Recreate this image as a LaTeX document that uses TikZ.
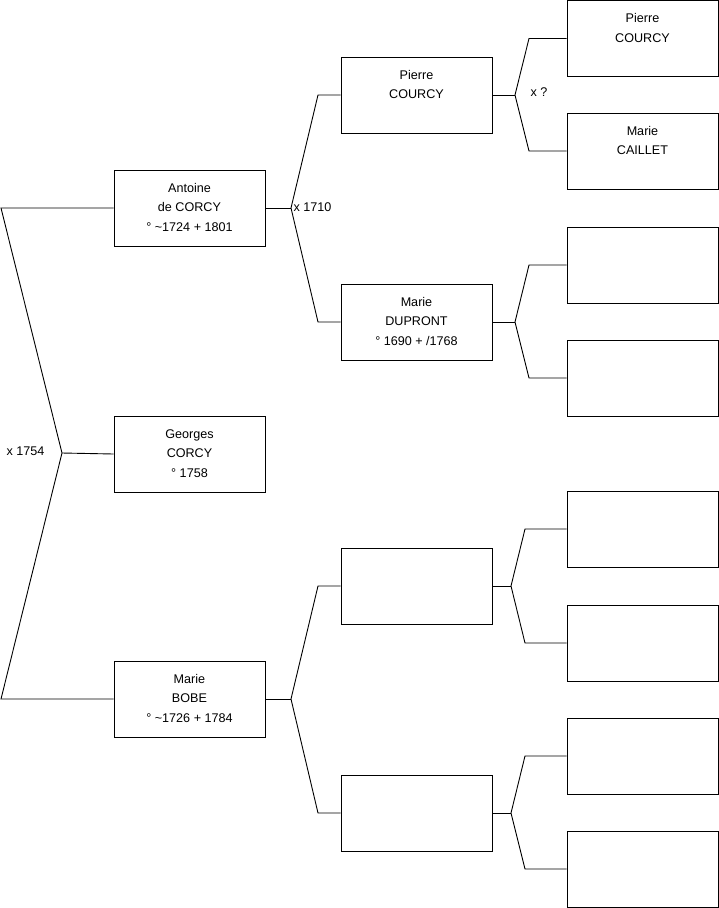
\documentclass[tikz,border=0pt]{standalone}
\usepackage{fontspec}
\setmainfont{Liberation Sans}
\begin{document}
\begin{tikzpicture}[x=1pt,y=-1pt,
  box/.style={draw=black,line width=0.9pt,minimum width=151pt,minimum height=76pt,inner sep=0pt,align=center,font=\fontsize{12.6}{19.6}\selectfont},
  conn/.style={draw=black,line width=0.9pt},
  lbl/.style={font=\fontsize{12.6}{14}\selectfont,inner sep=0pt}]
\useasboundingbox (0,0) rectangle (719,908);
% generation 1
\node[box] (a1) at (189.5,208) {\strut Antoine\\\strut de CORCY\\\strut ° \textasciitilde1724 + 1801};
\node[box] (g) at (189.5,454) {\strut Georges\\\strut CORCY\\\strut ° 1758};
\node[box] (b1) at (189.5,699) {\strut Marie\\\strut BOBE\\\strut ° \textasciitilde1726 + 1784};
% generation 2
\node[box] (p2) at (416.5,95) {\strut Pierre\\\strut COURCY\\\strut};
\node[box] (d2) at (416.5,322) {\strut Marie\\\strut DUPRONT\\\strut ° 1690 + /1768};
\node[box] (e1) at (416.5,586) {};
\node[box] (e2) at (416.5,813) {};
% generation 3
\node[box] (q1) at (642.5,38.5) {\strut Pierre\\\strut COURCY\\\strut};
\node[box] (q2) at (642.5,151) {\strut Marie\\\strut CAILLET\\\strut};
\node[box] (q3) at (642.5,265) {};
\node[box] (q4) at (642.5,378) {};
\node[box] (q5) at (642.5,529) {};
\node[box] (q6) at (642.5,643) {};
\node[box] (q7) at (642.5,756) {};
\node[box] (q8) at (642.5,869) {};
% fork points
\coordinate (L1) at (1,208);
\coordinate (L2) at (1,699);
\coordinate (f0) at (62,453);
\coordinate (fa) at (291,208);
\coordinate (ta) at (318,95);
\coordinate (ba) at (318,322);
\coordinate (fb) at (291,699);
\coordinate (tb) at (318,586);
\coordinate (bb) at (318,813);
\coordinate (fp) at (515,95);
\coordinate (tp) at (529,38.5);
\coordinate (bp) at (529,151);
\coordinate (fd) at (515,322);
\coordinate (td) at (529,265);
\coordinate (bd) at (529,378);
\coordinate (fe1) at (511,586);
\coordinate (te1) at (525,529);
\coordinate (be1) at (525,643);
\coordinate (fe2) at (511,813);
\coordinate (te2) at (525,756);
\coordinate (be2) at (525,869);
% connectors
\draw[conn] (a1.west) -- (L1) -- (f0) -- (L2) -- (b1.west);
\draw[conn] (f0) -- (g.west);
\draw[conn] (a1.east) -- (fa);
\draw[conn] (p2.west) -- (ta) -- (fa) -- (ba) -- (d2.west);
\draw[conn] (b1.east) -- (fb);
\draw[conn] (e1.west) -- (tb) -- (fb) -- (bb) -- (e2.west);
\draw[conn] (p2.east) -- (fp);
\draw[conn] (q1.west) -- (tp) -- (fp) -- (bp) -- (q2.west);
\draw[conn] (d2.east) -- (fd);
\draw[conn] (q3.west) -- (td) -- (fd) -- (bd) -- (q4.west);
\draw[conn] (e1.east) -- (fe1);
\draw[conn] (q5.west) -- (te1) -- (fe1) -- (be1) -- (q6.west);
\draw[conn] (e2.east) -- (fe2);
\draw[conn] (q7.west) -- (te2) -- (fe2) -- (be2) -- (q8.west);
% labels
\node[lbl] (m1) at (25.5,451) {x 1754};
\node[lbl] (m2) at (312.5,207) {x 1710};
\node[lbl] (m3) at (539,92) {x ?};
\end{tikzpicture}
\end{document}
